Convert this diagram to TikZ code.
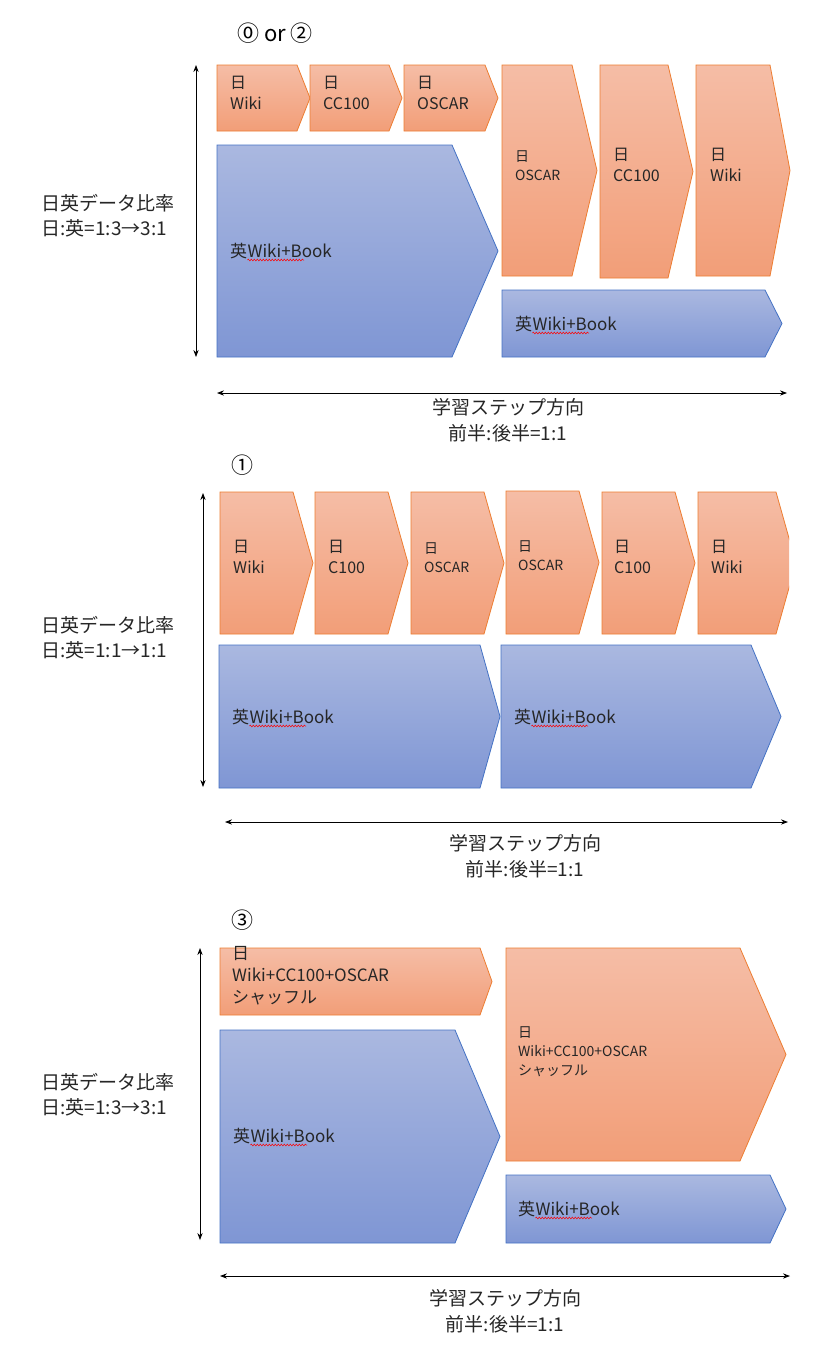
\documentclass[tikz,border=0pt]{standalone}
\usepackage{fontspec}
\setmainfont{Noto Sans CJK JP}
\usetikzlibrary{arrows.meta,decorations.pathmorphing}
\definecolor{otop}{HTML}{F5BDA6}
\definecolor{obot}{HTML}{F29E78}
\definecolor{oline}{HTML}{ED7D31}
\definecolor{btop}{HTML}{AAB8E0}
\definecolor{bbot}{HTML}{7F96D4}
\definecolor{bline}{HTML}{4472C4}
\tikzset{
 org/.style={draw=oline, line width=0.8pt, top color=otop, bottom color=obot},
 blu/.style={draw=bline, line width=0.8pt, top color=btop, bottom color=bbot},
 lbl/.style={anchor=north west, inner sep=0pt, font=\fontsize{16}{21}\selectfont, align=left, text=black!85},
 side/.style={font=\fontsize{19}{25}\selectfont, align=left, inner sep=0pt, text=black!85},
 bot/.style={font=\fontsize{19}{26}\selectfont, align=center, inner sep=0pt, text=black!85},
 dim/.style={{Stealth[length=7pt]}-{Stealth[length=7pt]}, line width=0.8pt},
 sq/.style={red, line width=0.5pt, decorate, decoration={snake, amplitude=0.9pt, segment length=3pt}}
}
\newcommand{\harr}[6]{%
 \path[#6] (#1,#2) -- ({#3-#5},#2) -- (#3,{(#2+#4)/2}) -- ({#3-#5},#4) -- (#1,#4) -- cycle;}
\newcommand{\eng}[3]{%
 \node[anchor=base west, inner sep=0pt, font=\fontsize{17}{20}\selectfont, text=black!85] (#3a) at (#1,#2) {英};
 \node[anchor=base west, inner sep=0pt, font=\fontsize{17}{20}\selectfont, text=black!85] (#3b) at (#3a.base east) {Wiki+Book};
 \draw[sq] ([yshift=-3pt]#3b.base west) -- ([yshift=-3pt,xshift=-28pt]#3b.base east);}
\begin{document}
\begin{tikzpicture}[x=1pt,y=-1pt]
\useasboundingbox[fill=white] (0,0) rectangle (838,1360);
% ---------- panel 1
\node[font=\fontsize{22}{26}\selectfont] (t1) at (275,33) {⓪ or ②};
\coordinate (v1a) at (196,65); \coordinate (v1b) at (196,357);
\draw[dim] (v1a) -- (v1b);
\node[side] (s1) at (108,216) {日英データ比率\\日:英=1:3→3:1};
\harr{217}{65}{310}{131}{13}{org}
\harr{310}{65}{402}{131}{13}{org}
\harr{404}{65}{498}{131}{13}{org}
\node[lbl] (a1) at (230,76) {日\\Wiki};
\node[lbl] (a2) at (323,76) {日\\CC100};
\node[lbl] (a3) at (417,76) {日\\OSCAR};
\harr{217}{145}{498}{357}{46}{blu}
\eng{230}{257}{e1}
\harr{502}{65}{597}{276}{25}{org}
\harr{600}{65}{693}{278}{25}{org}
\harr{696}{65}{790}{276}{20}{org}
\node[lbl, font=\fontsize{14}{19}\selectfont] (a4) at (515,150) {日\\OSCAR};
\node[lbl] (a5) at (613,148) {日\\CC100};
\node[lbl] (a6) at (710,148) {日\\Wiki};
\harr{502}{290}{782}{357}{17}{blu}
\eng{515}{330}{e2}
\coordinate (h1a) at (217,393); \coordinate (h1b) at (787,393);
\draw[dim] (h1a) -- (h1b);
\node[bot] (b1) at (508,420) {学習ステップ方向\\前半:後半=1:1};
% ---------- panel 2
\node[font=\fontsize{22}{26}\selectfont] (t2) at (242,465) {①};
\coordinate (v2a) at (203,493); \coordinate (v2b) at (203,787);
\draw[dim] (v2a) -- (v2b);
\node[side] (s2) at (108,638) {日英データ比率\\日:英=1:1→1:1};
\harr{220}{492}{313}{634}{20}{org}
\harr{315}{492}{408}{634}{20}{org}
\harr{411}{492}{504}{634}{20}{org}
\harr{506}{491}{599}{634}{20}{org}
\harr{602}{492}{695}{634}{20}{org}
\begin{scope}
\clip (690,480) rectangle (789,640);
\harr{698}{492}{796}{634}{20}{org}
\end{scope}
\node[lbl] (c1) at (233,540) {日\\Wiki};
\node[lbl] (c2) at (328,540) {日\\C100};
\node[lbl, font=\fontsize{14}{19}\selectfont] (c3) at (424,542) {日\\OSCAR};
\node[lbl, font=\fontsize{14}{19}\selectfont] (c4) at (518,540) {日\\OSCAR};
\node[lbl] (c5) at (614,540) {日\\C100};
\node[lbl] (c6) at (711,540) {日\\Wiki};
\harr{219}{645}{500}{788}{20}{blu}
\harr{501}{645}{781}{788}{30}{blu}
\eng{232}{723}{e3}
\eng{514}{723}{e4}
\coordinate (h2a) at (225,822); \coordinate (h2b) at (788,822);
\draw[dim] (h2a) -- (h2b);
\node[bot] (b2) at (525,856) {学習ステップ方向\\前半:後半=1:1};
% ---------- panel 3
\node[font=\fontsize{22}{26}\selectfont] (t3) at (242,920) {③};
\coordinate (v3a) at (200,948); \coordinate (v3b) at (200,1240);
\draw[dim] (v3a) -- (v3b);
\node[side] (s3) at (108,1095) {日英データ比率\\日:英=1:3→3:1};
\harr{220}{948}{492}{1015}{12}{org}
\node[lbl, font=\fontsize{17}{22}\selectfont] (d1) at (232,946) {日\\Wiki+CC100+OSCAR\\シャッフル};
\harr{220}{1030}{500}{1243}{45}{blu}
\eng{233}{1142}{e5}
\harr{506}{948}{786}{1161}{46}{org}
\node[lbl, font=\fontsize{14}{19}\selectfont] (d2) at (518,1026) {日\\Wiki+CC100+OSCAR\\シャッフル};
\harr{506}{1175}{786}{1243}{16}{blu}
\eng{518}{1215}{e6}
\coordinate (h3a) at (220,1276); \coordinate (h3b) at (790,1276);
\draw[dim] (h3a) -- (h3b);
\node[bot] (b3) at (505,1311) {学習ステップ方向\\前半:後半=1:1};
\end{tikzpicture}
\end{document}
